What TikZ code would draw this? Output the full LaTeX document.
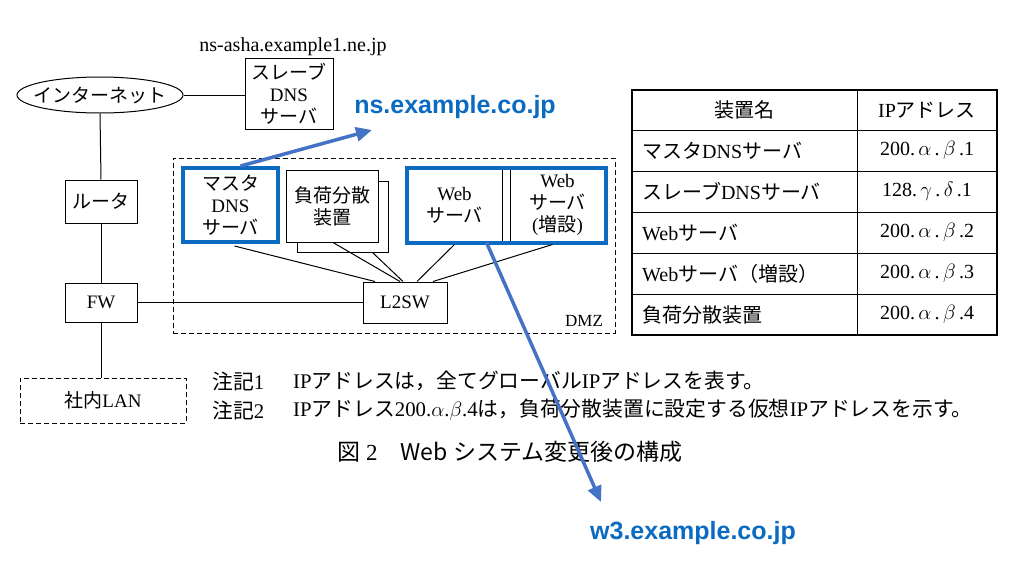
\documentclass[tikz,border=0pt]{standalone}
\usepackage{fontspec}
\setmainfont{Liberation Serif}
\newfontfamily\jp{Noto Sans CJK JP}
\newfontfamily\bsans{Liberation Sans}
\usetikzlibrary{shapes.geometric,arrows.meta}
\definecolor{hlblue}{HTML}{0A6BC0}
\definecolor{arrblue}{HTML}{4472C4}
\newcommand\J[1]{{\jp #1}}
\begin{document}
\begin{tikzpicture}[x=1pt,y=-1pt,
  box/.style={draw, line width=1pt, align=center, inner sep=0pt, font=\fontsize{19}{22}\selectfont},
  dsh/.style={dash pattern=on 5pt off 3pt},
  hl/.style={draw=hlblue, line width=4pt},
  conn/.style={line width=1pt},
  barrow/.style={draw=arrblue, line width=3.5pt, -{Triangle[length=16pt,width=14pt]}},
  btext/.style={text=hlblue, font=\bsans\bfseries\fontsize{25}{28}\selectfont, inner sep=0pt},
  cell/.style={font=\fontsize{20}{24}\selectfont, inner sep=0pt},
  note/.style={font=\fontsize{20.8}{24}\selectfont, inner sep=0pt, anchor=west}
]
\useasboundingbox (0,0) rectangle (1027,562);
% DMZ
\node[draw, dsh, line width=1pt, minimum width=442pt, minimum height=175pt, inner sep=0pt] (dmz) at (394,245.5) {};
\node[font=\fontsize{17}{20}\selectfont, inner sep=0pt] (dmzlabel) at (584,321) {DMZ};
% devices
\node[box, ellipse, inner xsep=-8pt, inner ysep=0pt, minimum width=166pt, minimum height=36pt, font=\jp\fontsize{19}{22}\selectfont] (inet) at (100,95) {インターネット};
\node[box, minimum width=88pt, minimum height=71pt] (slave) at (289,93.5) {\J{スレーブ}\\DNS\\\J{サーバ}};
\node[font=\fontsize{20}{22}\selectfont, inner sep=0pt] (nsasha) at (293,47) {ns-asha.example1.ne.jp};
\node[box, minimum width=72pt, minimum height=43pt] (router) at (101,201.5) {\J{ルータ}};
\node[box, minimum width=72pt, minimum height=39pt] (fw) at (101,302.5) {FW};
\node[box, dsh, minimum width=166pt, minimum height=45pt] (lan) at (103,400.5) {\J{社内}LAN};
\node[box, hl, minimum width=95pt, minimum height=74pt] (master) at (230.5,205) {\J{マスタ}\\DNS\\\J{サーバ}};
\node[box, minimum width=91pt, minimum height=71pt] (lbb) at (342.5,216.5) {};
\node[box, fill=white, minimum width=92pt, minimum height=72pt] (lbf) at (332,206) {\J{負荷分散}\\\J{装置}};
\node[box, minimum width=95pt, minimum height=74pt] (web) at (454.5,205) {Web\\\J{サーバ}};
\node[box, minimum width=95pt, minimum height=74pt] (web2) at (557.5,205) {Web\\\J{サーバ}\\(\J{増設})};
\draw[hl] (web.north west) rectangle (web2.south east);
\node[box, minimum width=84pt, minimum height=41pt] (l2sw) at (405,302.5) {L2SW};
% connectors
\draw[conn] (inet.east) -- (inet.east -| slave.west);
\draw[conn] (inet.south) -- (router.north);
\draw[conn] (router.south) -- (fw.north);
\draw[conn] (fw.south) -- (fw.south |- lan.north);
\draw[conn] (fw.east) -- (l2sw.west);
\draw[conn] ([xshift=4pt,yshift=-2pt]master.south) -- ([xshift=-30pt]l2sw.north);
\draw[conn] ([xshift=1pt]lbf.south) -- ([xshift=-5pt]l2sw.north);
\draw[conn] ([xshift=30pt]lbb.south) -- ([xshift=-2pt]l2sw.north);
\draw[conn] ([yshift=-2pt]web.south) -- ([xshift=12pt]l2sw.north);
\draw[conn] ([xshift=-5pt,yshift=-2pt]web2.south) -- ([xshift=28pt]l2sw.north);
% table
\draw[line width=1.3pt] (632,90) rectangle (997,335);
\foreach \yy in {130,171,212,253,294} \draw[line width=1pt] (632,\yy) -- (997,\yy);
\draw[line width=1pt] (857,90) -- (857,335);
\node[cell] (th1) at (744.5,110) {\J{装置名}};
\node[cell] (th2) at (927,110) {IP\J{アドレス}};
\node[cell, anchor=west] (r1a) at (642,150.5) {\J{マスタ}DNS\J{サーバ}};
\node[cell, anchor=west] (r2a) at (642,191.5) {\J{スレーブ}DNS\J{サーバ}};
\node[cell, anchor=west] (r3a) at (642,232.5) {Web\J{サーバ}};
\node[cell, anchor=west] (r4a) at (642,273.5) {Web\J{サーバ（増設）}};
\node[cell, anchor=west] (r5a) at (642,314.5) {\J{負荷分散装置}};
\node[cell] (r1b) at (927,150.5) {200.\,$\alpha$\,.\,$\beta$\,.1};
\node[cell] (r2b) at (927,191.5) {128.\,$\gamma$\,.\,$\delta$\,.1};
\node[cell] (r3b) at (927,232.5) {200.\,$\alpha$\,.\,$\beta$\,.2};
\node[cell] (r4b) at (927,273.5) {200.\,$\alpha$\,.\,$\beta$\,.3};
\node[cell] (r5b) at (927,314.5) {200.\,$\alpha$\,.\,$\beta$\,.4};
% notes
\node[note] (n1l) at (212,381) {\J{注記}1};
\node[note] (n1t) at (293,381) {IP\J{アドレスは，全てグローバル}IP\J{アドレスを表す。}};
\node[note] (n2l) at (212,410) {\J{注記}2};
\node[note] (n2t) at (293,410) {IP\J{アドレス}200.$\alpha$.$\beta$.4\J{は，負荷分散装置に設定する仮想}IP\J{アドレスを示す。}};
\node[font=\fontsize{23}{26}\selectfont, inner sep=0pt] (caption) at (510,452) {\J{図} 2\quad \J{Web} \J{システム変更後の構成}};
% blue annotations
\node[btext] (nsname) at (455,107) {ns.example.co.jp};
\node[btext] (w3name) at (693,533) {w3.example.co.jp};
\coordinate (nstip) at (372,130);
\coordinate (w3tip) at (601,502);
\draw[barrow] ([xshift=10pt]master.north) -- (nstip);
\draw[barrow] ([xshift=32pt]web.south) -- (w3tip);
\end{tikzpicture}
\end{document}
